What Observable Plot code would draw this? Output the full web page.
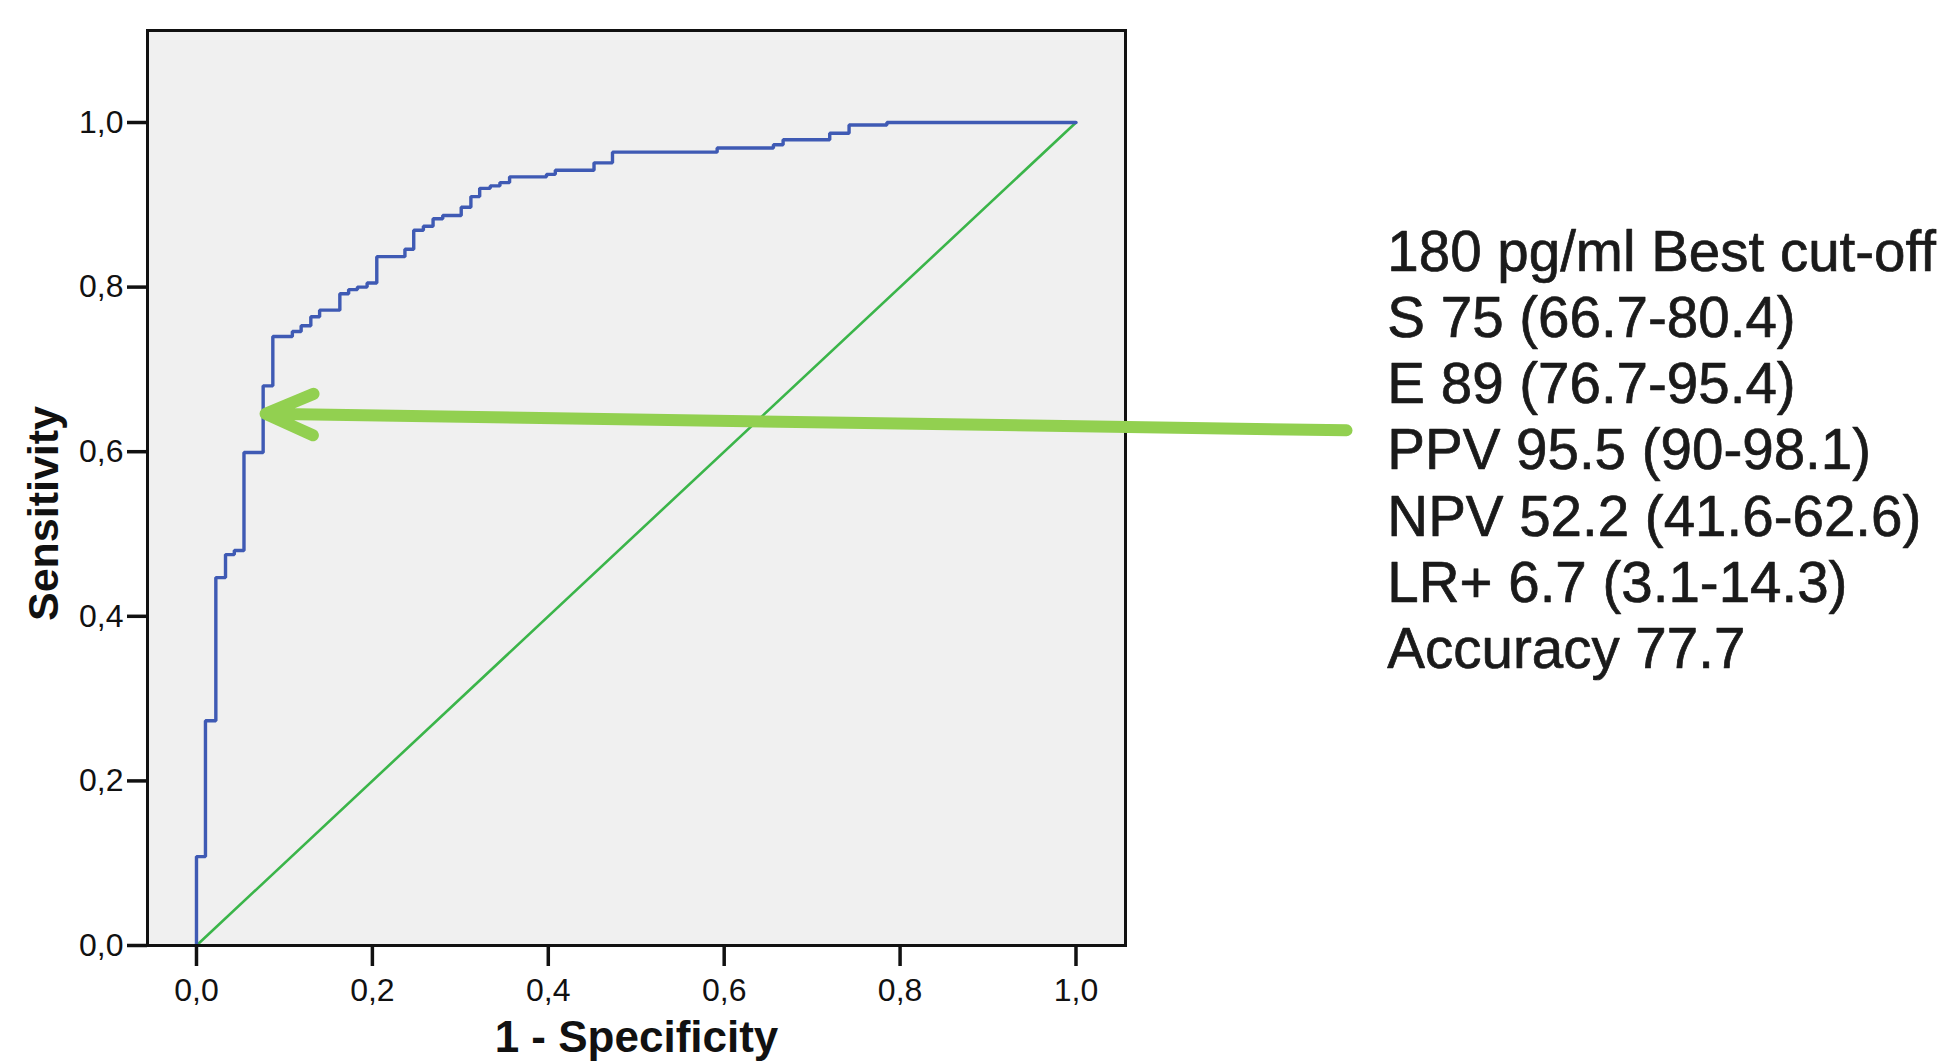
<!DOCTYPE html>
<html><head><meta charset="utf-8">
<script src="https://cdn.jsdelivr.net/npm/d3@7"></script>
<script src="https://cdn.jsdelivr.net/npm/@observablehq/plot@0.6"></script>
<style>
html,body{margin:0;padding:0;background:#fff;}
#chart{width:1956px;height:1062px;overflow:hidden;}
</style></head><body><div id="chart"></div>
<script>
// ROC curve corner points (1 - specificity, sensitivity)
const fpr = [0, 0, 0.0102, 0.022, 0.033, 0.043, 0.054, 0.0758, 0.0868, 0.109, 0.119, 0.130, 0.140, 0.163, 0.173, 0.183, 0.194, 0.205, 0.237, 0.247, 0.258, 0.269, 0.280, 0.301, 0.312, 0.322, 0.334, 0.345, 0.356, 0.398, 0.408, 0.452, 0.473, 0.592, 0.656, 0.667, 0.720, 0.742, 0.785, 1.0];
const tpr = [0, 0.108, 0.273, 0.447, 0.475, 0.480, 0.599, 0.680, 0.740, 0.746, 0.753, 0.764, 0.772, 0.792, 0.797, 0.800, 0.805, 0.837, 0.846, 0.869, 0.874, 0.883, 0.887, 0.897, 0.910, 0.920, 0.923, 0.927, 0.934, 0.937, 0.942, 0.951, 0.964, 0.969, 0.973, 0.979, 0.987, 0.997, 1.0, 1.0];
// reference (chance) diagonal
const refLine = [0, 1];
// tick values
const tickValues = [0, 0.2, 0.4, 0.6, 0.8, 1.0];
// annotation arrow (tail, tip) in data units
const arrowTail = [1.3076, 0.626];
const arrowTip = [0.0785, 0.646];
// annotation text
const statLines = [
  "180 pg/ml Best cut-off",
  "S 75 (66.7-80.4)",
  "E 89 (76.7-95.4)",
  "PPV 95.5 (90-98.1)",
  "NPV 52.2 (41.6-62.6)",
  "LR+ 6.7 (3.1-14.3)",
  "Accuracy 77.7"
];
const xTitle = "1 - Specificity";
const yTitle = "Sensitivity";

const roc = fpr.map((f, i) => ({fpr: f, tpr: tpr[i]}));
const diag = refLine.map(v => ({x: v, y: v}));
const fmt = d => d.toFixed(1).replace(".", ",");

const chart = Plot.plot({
  width: 1956,
  height: 1062,
  marginLeft: 147,
  marginRight: 831,
  marginTop: 30,
  marginBottom: 117,
  style: {fontFamily: "'Liberation Sans', Arial, sans-serif", background: "white", color: "#111", overflow: "visible"},
  x: {domain: [-0.0557, 1.0563]},
  y: {domain: [0, 1.1118]},
  marks: [
    Plot.frame({fill: "#f0f0f0", stroke: "none"}),
    Plot.line(diag, {x: "x", y: "y", stroke: "#3bb54a", strokeWidth: 2.6}),
    Plot.line(roc, {x: "fpr", y: "tpr", curve: "step-after", stroke: "#3f5ab4", strokeWidth: 3.4, strokeLinejoin: "miter"}),
    Plot.frame({stroke: "#111", strokeWidth: 3}),
    Plot.axisX(tickValues, {tickSize: 21, tickPadding: 12, strokeWidth: 3.5, fontSize: 32, tickFormat: fmt, label: null}),
    Plot.axisY(tickValues, {tickSize: 20, tickPadding: 4, strokeWidth: 3.5, fontSize: 32, tickFormat: fmt, label: null}),
    Plot.text([xTitle], {frameAnchor: "bottom", dy: 92, lineAnchor: "middle", textAnchor: "middle", fontSize: 44, fontWeight: "bold", fill: "#111"}),
    Plot.text([yTitle], {frameAnchor: "left", rotate: -90, dx: -103, dy: 25.5, lineAnchor: "middle", textAnchor: "middle", fontSize: 43, fontWeight: "bold", fill: "#111"}),
    Plot.arrow([0], {x1: arrowTail[0], y1: arrowTail[1], x2: arrowTip[0], y2: arrowTip[1], stroke: "#92d050", strokeWidth: 12, headAngle: 47, headLength: 6.5}),
    Plot.text([statLines.join("\n")], {x: 1.354, y: 0.877, textAnchor: "start", lineAnchor: "top", lineHeight: 1.172, fontSize: 56.5, fill: "#1a1a1a", stroke: "#1a1a1a", strokeWidth: 0.7})
  ]
});
document.getElementById("chart").appendChild(chart);
</script>
</body></html>
